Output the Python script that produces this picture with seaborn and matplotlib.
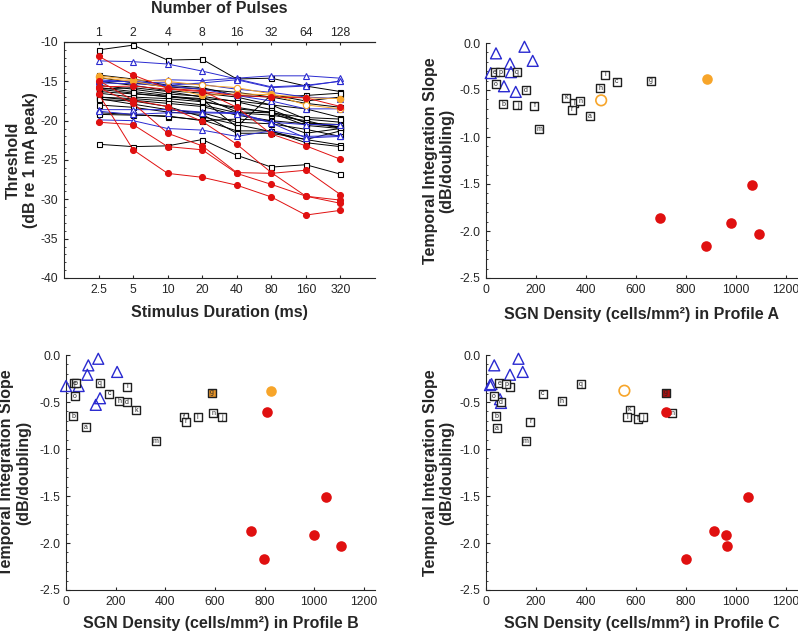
import matplotlib
matplotlib.use('Agg')
import matplotlib.pyplot as plt
from matplotlib.ticker import MultipleLocator
import pandas as pd
import seaborn as sns

# ---- panel 1: threshold vs duration ----
durations = ['2.5', '5', '10', '20', '40', '80', '160', '320']
pulses = ['1', '2', '4', '8', '16', '32', '64', '128']

black_lines = [
    [-11.0, -10.4, -12.3, -12.2, -14.7, -14.6, -15.6, -16.3],
    [-23.0, -23.3, -23.2, -22.4, -24.4, -25.9, -25.6, -26.8],
    [-14.2, -14.7, -15.5, -15.8, -16.8, -17.0, -17.8, -18.3],
    [-16.3, -16.6, -16.9, -17.2, -17.5, -18.0, -19.8, -20.2],
    [-17.0, -17.2, -17.5, -18.0, -19.0, -19.3, -20.0, -21.0],
    [-17.3, -17.5, -18.2, -19.5, -20.5, -21.4, -22.4, -23.1],
    [-19.0, -19.2, -19.5, -19.9, -21.3, -21.3, -22.8, -23.3],
    [-16.0, -16.5, -17.0, -17.3, -20.8, -16.7, -17.5, -17.0],
    [-15.0, -15.5, -16.2, -16.5, -17.0, -18.0, -18.5, -19.6],
    [-15.5, -16.0, -16.6, -16.9, -17.6, -18.6, -20.3, -20.5],
    [-16.5, -17.0, -17.2, -17.6, -18.3, -19.0, -20.6, -21.0],
    [-17.0, -17.4, -17.8, -18.2, -19.3, -20.0, -21.6, -21.0],
    [-16.0, -15.8, -16.3, -17.0, -18.9, -19.0, -19.6, -19.8],
    [-14.5, -15.2, -15.7, -16.0, -16.4, -17.0, -16.8, -16.5],
    [-15.8, -16.3, -16.8, -17.5, -18.5, -18.9, -20.2, -20.8],
    [-17.2, -17.9, -18.6, -19.0, -20.2, -20.4, -21.1, -22.0],
    [-18.0, -18.3, -18.9, -19.2, -21.6, -21.6, -22.4, -21.3],
    [-19.2, -19.3, -19.4, -20.0, -19.8, -20.0, -20.4, -20.8],
]
blue_lines = [
    [-12.4, -12.5, -12.8, -13.7, -14.7, -15.7, -15.5, -15.0],
    [-15.0, -15.0, -14.8, -14.9, -14.6, -14.3, -14.3, -14.6],
    [-15.2, -15.3, -15.5, -15.2, -14.8, -15.8, -15.6, -14.95],
    [-18.6, -18.6, -18.6, -18.9, -19.0, -20.2, -20.5, -20.5],
    [-19.9, -20.0, -21.0, -21.2, -22.0, -21.3, -22.0, -21.9],
    [-15.0, -15.0, -15.6, -16.0, -16.8, -17.5, -18.5, -18.5],
    [-18.8, -19.2, -19.0, -19.0, -19.1, -20.3, -22.2, -22.0],
    [-14.8, -15.1, -15.2, -15.4, -16.0, -16.4, -17.0, -17.2],
]
red_lines = [
    [-11.8, -14.2, -15.9, -16.2, -18.3, -21.7, -23.2, -24.9],
    [-14.9, -17.4, -18.2, -20.1, -23.0, -26.6, -29.6, -30.1],
    [-15.8, -17.8, -21.6, -23.2, -26.6, -26.7, -26.3, -29.4],
    [-16.6, -23.7, -26.7, -27.2, -28.2, -29.7, -32.0, -31.4],
    [-20.2, -20.5, -23.3, -23.7, -26.7, -28.1, -29.6, -30.5],
    [-15.7, -15.6, -16.0, -16.3, -16.8, -17.0, -17.1, -18.2],
]
orange_filled_line = [-14.5, -15.0, -15.8, -16.8, -16.6, -16.7, -17.1, -17.2]
orange_open_line = [-14.3, -14.8, -15.0, -15.5, -15.8, -16.6, -18.0, -18.5]

# ---- panels 2-4: slope vs SGN density ----
letters = list('abcdefghijklmnopqr')

sq_x_A = [417, 70, 524, 160, 36, 194, 661, 457, 477, 126, 321, 354, 214, 377, 40, 56, 123, 345]
sq_y_A = [-0.78, -0.65, -0.41, -0.50, -0.31, -0.67, -0.40, -0.48, -0.34, -0.66, -0.58, -0.64,
          -0.92, -0.62, -0.44, -0.31, -0.31, -0.71]
sq_x_B = [81, 30, 174, 246, 34, 474, 587, 214, 246, 627, 284, 530, 361, 593, 37, 40, 137, 483]
sq_y_B = [-0.77, -0.65, -0.41, -0.50, -0.30, -0.66, -0.40, -0.49, -0.34, -0.66, -0.59, -0.66,
          -0.92, -0.62, -0.44, -0.30, -0.30, -0.71]
sq_x_C = [43, 40, 227, 60, 53, 607, 720, 304, 96, 627, 575, 565, 159, 745, 32, 80, 380, 177]
sq_y_C = [-0.78, -0.65, -0.41, -0.50, -0.30, -0.68, -0.40, -0.49, -0.34, -0.66, -0.58, -0.66,
          -0.92, -0.62, -0.44, -0.31, -0.31, -0.71]

tri_x_A = [19, 40, 72, 96, 100, 119, 154, 187]
tri_y_A = [-0.32, -0.11, -0.46, -0.22, -0.31, -0.52, -0.04, -0.19]
tri_x_B = [0, 51, 90, 130, 86, 206, 137, 120]
tri_y_B = [-0.33, -0.33, -0.11, -0.04, -0.21, -0.18, -0.46, -0.53]
tri_x_C = [16, 22, 33, 56, 60, 96, 130, 147]
tri_y_C = [-0.32, -0.31, -0.11, -0.47, -0.51, -0.21, -0.04, -0.18]

red_x_A = [698, 880, 979, 1066, 1093]
red_y_A = [-1.86, -2.16, -1.91, -1.51, -2.03]
red_x_B = [810, 746, 797, 1000, 1046, 1109]
red_y_B = [-0.61, -1.87, -2.17, -1.91, -1.51, -2.03]
red_x_C = [722, 912, 799, 959, 1049, 966]
red_y_C = [-0.61, -1.87, -2.17, -1.91, -1.51, -2.03]

orange_filled_pts = {'A': (883, -0.38), 'B': (827, -0.38)}
orange_open_pts = {'A': (461, -0.61), 'C': (554, -0.38)}
g_fill = {'A': 'white', 'B': '#e8962a', 'C': '#b01010'}

BLUE = '#2a2ad0'
RED = '#e01010'
ORANGE = '#f7a52a'
LABEL_FS = 11.5
TICK_FS = 8.8

sns.set_style('ticks')
plt.rcParams['font.family'] = ['Liberation Sans', 'DejaVu Sans']
plt.rcParams['axes.unicode_minus'] = False

fig = plt.figure(figsize=(7.98, 6.33), dpi=100)
W, H = 798, 633


def add_ax(left, top, right, bottom):
    return fig.add_axes([left / W, 1 - bottom / H, (right - left) / W, (bottom - top) / H])


# ---------- panel 1 ----------
ax1 = add_ax(64, 42, 375, 278)
xi = list(range(len(durations)))


def draw_line(vals, color, marker, mfc, ms, z):
    df = pd.DataFrame({'x': xi, 'y': vals})
    sns.lineplot(data=df, x='x', y='y', ax=ax1, color=color, lw=0.7, marker=marker,
                 markersize=ms, markerfacecolor=mfc, markeredgecolor=color,
                 markeredgewidth=0.8, zorder=z, clip_on=False)


for v in black_lines:
    draw_line(v, 'black', 's', 'white', 3.6, 2)
for v in blue_lines:
    draw_line(v, BLUE, '^', 'white', 4.2, 3)
draw_line(orange_open_line, ORANGE, 'o', 'white', 4.5, 4)
draw_line(orange_filled_line, ORANGE, 'o', ORANGE, 4.5, 4)
for v in red_lines:
    draw_line(v, RED, 'o', RED, 4.3, 5)

ax1.set_xlim(-1, 8)
ax1.set_ylim(-40, -10)
ax1.set_xticks(xi)
ax1.set_xticklabels(durations)
ax1.yaxis.set_major_locator(MultipleLocator(5))
ax1.yaxis.set_minor_locator(MultipleLocator(1))
ax1.tick_params(axis='y', which='major', direction='in', length=3, labelsize=TICK_FS, pad=4)
ax1.tick_params(axis='y', which='minor', direction='in', length=1.5)
ax1.tick_params(axis='x', direction='in', length=2, labelsize=TICK_FS, pad=4)
ax1.spines['right'].set_visible(False)
ax1.spines['top'].set_visible(True)
top = ax1.secondary_xaxis('top')
top.set_xticks(xi)
top.set_xticklabels(pulses)
top.tick_params(direction='in', length=2, labelsize=TICK_FS, pad=2.5)
top.set_xlabel('Number of Pulses', fontsize=LABEL_FS, fontweight='bold', labelpad=10)
ax1.set_xlabel('Stimulus Duration (ms)', fontsize=LABEL_FS, fontweight='bold', labelpad=6.5)
ax1.set_ylabel('Threshold\n(dB re 1 mA peak)', fontsize=LABEL_FS, fontweight='bold',
               labelpad=2, linespacing=1.15)


# ---------- scatter panels ----------
def scatter_panel(ax, prof, sq_x, sq_y, tri_x, tri_y, red_x, red_y, xpad, ypad):
    sns.scatterplot(x=tri_x, y=tri_y, ax=ax, marker='^', s=62, facecolor='none',
                    edgecolor=BLUE, linewidth=1.0, zorder=3, clip_on=False)
    for i, (x, y) in enumerate(zip(sq_x, sq_y)):
        fc = g_fill[prof] if letters[i] == 'g' else 'white'
        sns.scatterplot(x=[x], y=[y], ax=ax, marker='s', s=40, color=fc,
                        edgecolor='#202020', linewidth=1.0, zorder=4, clip_on=False)
        ax.text(x, y, letters[i], fontsize=5, ha='center', va='center', zorder=5)
    sns.scatterplot(x=red_x, y=red_y, ax=ax, marker='o', s=58, color=RED,
                    edgecolor=RED, linewidth=0, zorder=6)
    if prof in orange_filled_pts:
        px, py = orange_filled_pts[prof]
        sns.scatterplot(x=[px], y=[py], ax=ax, marker='o', s=58, color=ORANGE,
                        edgecolor=ORANGE, linewidth=0, zorder=6)
    if prof in orange_open_pts:
        px, py = orange_open_pts[prof]
        sns.scatterplot(x=[px], y=[py], ax=ax, marker='o', s=58, facecolor='none',
                        edgecolor=ORANGE, linewidth=1.2, zorder=6)
    ax.set_xlim(0, 1245)
    ax.set_ylim(-2.5, 0)
    ax.set_xticks([0, 200, 400, 600, 800, 1000, 1200])
    ax.set_yticks([-2.5, -2.0, -1.5, -1.0, -0.5, 0.0])
    ax.set_yticklabels(['-2.5', '-2.0', '-1.5', '-1.0', '-0.5', '0.0'])
    ax.yaxis.set_minor_locator(MultipleLocator(0.1))
    ax.tick_params(axis='y', which='major', direction='in', length=3, labelsize=TICK_FS, pad=4)
    ax.tick_params(axis='y', which='minor', direction='in', length=1.5)
    ax.tick_params(axis='x', direction='in', length=2, labelsize=TICK_FS, pad=4)
    sns.despine(ax=ax)
    ax.set_xlabel('SGN Density (cells/mm\u00b2) in Profile ' + prof, fontsize=LABEL_FS,
                  fontweight='bold', labelpad=xpad)
    ax.set_ylabel('Temporal Integration Slope\n(dB/doubling)', fontsize=LABEL_FS,
                  fontweight='bold', labelpad=ypad, linespacing=1.15)


ax2 = add_ax(486, 43, 797, 278)
scatter_panel(ax2, 'A', sq_x_A, sq_y_A, tri_x_A, tri_y_A, red_x_A, red_y_A, 8, 3.5)
ax3 = add_ax(66, 355, 375, 590)
scatter_panel(ax3, 'B', sq_x_B, sq_y_B, tri_x_B, tri_y_B, red_x_B, red_y_B, 6, 6)
ax4 = add_ax(486, 355, 797, 590)
scatter_panel(ax4, 'C', sq_x_C, sq_y_C, tri_x_C, tri_y_C, red_x_C, red_y_C, 6, 3.5)

fig.savefig('out.png', dpi=100)
